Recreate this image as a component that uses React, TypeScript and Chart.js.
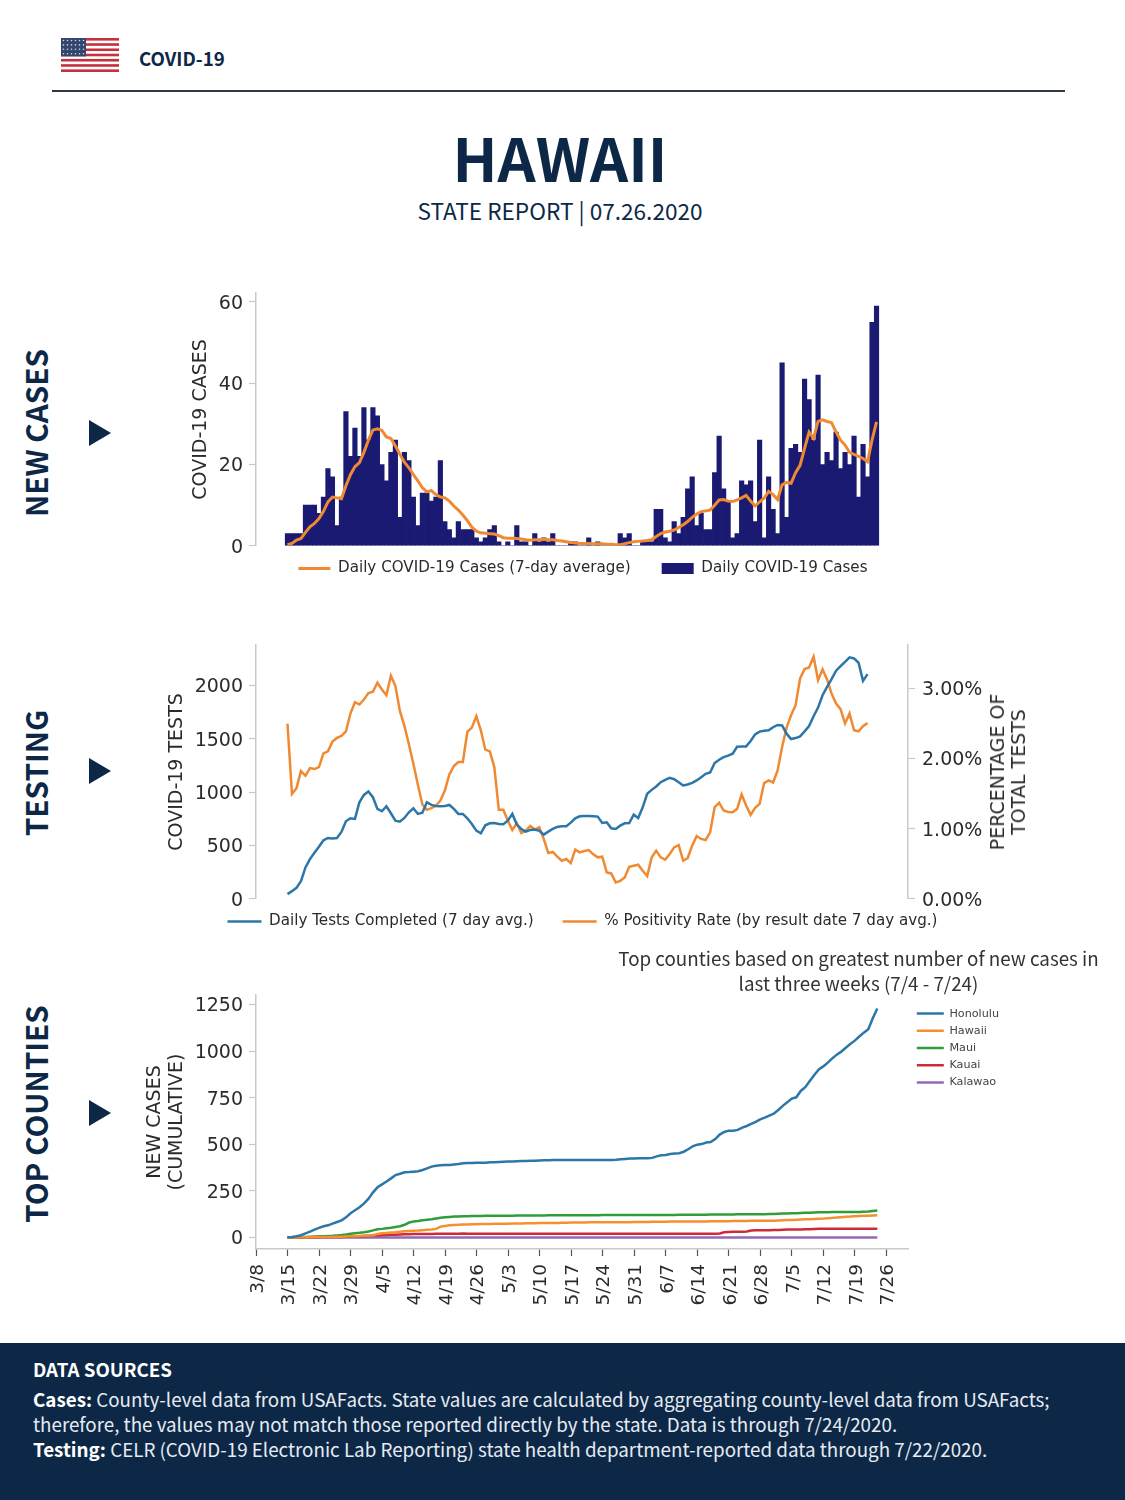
import React, { useEffect, useRef } from "react";
import { Chart, registerables } from "chart.js";

Chart.register(...registerables);

// ---- Data ----
const dailyCases = [
  3,3,3,3,10,10,10,8,12,19,17,5,12,33,22,29,22,34,26,34,
  32,20,16,23,26,7,23,21,12,5,13,13,11,12,21,6,4,2,6,4,
  4,4,2,1,2,4,5,1,0,1,0,5,1,1,0,3,1,2,1,3,
  0,0,0,1,1,0,0,2,0,1,0,0,0,0,3,2,3,0,0,1,
  1,1,9,9,2,1,6,3,7,14,17,5,8,4,4,18,27,14,11,2,
  3,16,15,16,6,26,2,17,9,3,45,7,24,25,23,41,36,26,42,20,
  23,21,28,19,23,20,27,12,25,17,55,59,
];
const casesAvg = [
  0.3,0.6,1.4,1.8,3.3,4.7,5.5,6.7,8.5,10.8,12,11.8,11.6,14.8,17.5,19.5,20.5,23,26,28.5,
  28.8,28.4,26.8,26.4,24.6,22.5,20.6,19.2,17.5,16,14.3,13.3,13.6,12.6,12,11.8,11,9.8,8.8,7.6,
  6.2,4.6,3.6,3.2,3.1,3,2.9,2.5,2,1.9,1.9,1.8,1.7,1.5,1.4,1.5,1.5,1.6,1.5,1.5,
  1.3,1.2,1,0.8,0.7,0.6,0.6,0.6,0.5,0.5,0.5,0.4,0.4,0.3,0.3,0.5,0.8,1,1.1,1.2,
  1.3,1.5,2.3,3,3.4,3.6,3.9,4.5,5.2,6,7,7.8,8.4,8.6,8.8,10,11.3,11.4,11,10.9,
  11.3,11.8,12.4,11,9.8,10.8,11.7,13.4,12.6,11.4,15,15.6,15.4,18,19.8,24,28,26.5,30.6,31,
  30.6,30.3,28,26,24.8,23,22.5,22,21.5,20.7,26,30.5,
];
const dailyTests = [
  44,72,103,166,294,372,432,488,548,570,566,570,626,726,754,748,904,973,1005,951,
  842,820,867,801,732,723,757,810,848,795,807,904,879,870,867,870,879,842,795,795,
  754,701,638,613,688,707,710,701,698,732,795,695,654,629,645,648,638,601,629,654,
  673,679,679,713,754,773,776,776,773,770,710,717,660,654,685,707,710,788,757,857,
  983,1020,1052,1092,1114,1133,1120,1092,1061,1070,1086,1108,1139,1170,1183,1271,1302,1327,1340,1358,
  1424,1427,1427,1477,1540,1565,1574,1577,1606,1628,1624,1546,1496,1505,1521,1568,1618,1709,1790,1906,
  1984,2056,2135,2178,2219,2260,2250,2210,2040,2103,
];
const positivityRate = [
  2.495,1.495,1.576,1.819,1.752,1.862,1.848,1.876,2.071,2.1,2.238,2.291,2.319,2.386,2.638,2.8,2.767,2.838,2.929,2.948,
  3.076,2.981,2.9,3.176,3.029,2.676,2.462,2.2,1.924,1.624,1.343,1.267,1.291,1.324,1.4,1.543,1.772,1.891,1.948,1.948,
  2.376,2.438,2.6,2.4,2.124,2.1,1.876,1.267,1.267,1.114,0.981,1.076,0.938,0.971,1.038,0.986,1.019,0.852,0.652,0.667,
  0.6,0.543,0.567,0.51,0.7,0.662,0.681,0.695,0.633,0.591,0.6,0.376,0.362,0.233,0.257,0.305,0.457,0.472,0.486,0.4,
  0.324,0.591,0.686,0.591,0.557,0.638,0.733,0.767,0.543,0.581,0.757,0.895,0.853,0.838,0.948,1.305,1.367,1.257,1.238,1.233,
  1.281,1.486,1.329,1.195,1.295,1.352,1.648,1.686,1.657,1.829,2.162,2.438,2.614,2.757,3.138,3.271,3.295,3.448,3.114,3.267,
  3.124,2.924,2.781,2.7,2.495,2.638,2.4,2.386,2.457,2.505,
];
const honolulu = [
  1,3,6,12,22,31,42,51,60,65,74,83,92,108,130,146,162,183,208,242,
  269,285,300,317,335,342,350,351,353,355,362,371,380,385,387,389,389,392,394,398,
  400,400,401,401,401,403,404,405,406,407,408,409,410,410,411,412,413,414,414,415,
  415,416,416,416,416,416,416,416,416,416,416,416,416,417,419,421,423,423,425,425,
  425,427,435,441,443,448,450,452,460,473,489,498,501,509,512,528,552,566,573,573,
  577,589,598,609,620,634,643,654,664,684,706,725,745,752,786,806,840,872,902,918,
  938,961,981,997,1018,1038,1056,1078,1099,1117,1176,1229,
];
const hawaii = [
  0,0,0,1,1,1,2,2,2,3,3,4,4,5,6,7,8,9,10,12,
  18,22,24,26,28,31,33,35,36,37,39,41,43,46,58,62,65,67,68,69,
  70,71,71,72,72,72,73,73,74,74,75,75,75,76,76,76,77,77,78,78,
  78,79,79,80,80,80,80,81,81,81,81,81,82,82,82,82,82,83,83,83,
  83,84,84,84,84,85,85,85,85,85,86,86,86,86,87,87,87,87,87,88,
  88,88,88,89,89,89,89,90,90,91,92,93,94,95,96,97,98,99,100,101,
  103,105,107,109,111,112,114,115,116,117,118,119,
];
const maui = [
  0,1,1,2,3,4,5,6,7,8,9,11,13,16,20,23,25,28,32,38,
  44,46,49,52,56,60,68,80,85,88,92,95,98,102,106,108,110,112,113,114,
  114,115,115,115,116,116,116,117,117,117,117,118,118,118,118,118,118,118,119,119,
  119,119,119,119,119,119,119,119,119,119,120,120,120,120,120,120,120,120,120,120,
  121,121,121,121,121,121,121,122,122,122,122,122,122,122,123,123,123,123,123,123,
  124,124,124,124,125,125,125,126,126,127,128,129,130,130,131,132,133,134,135,135,
  135,136,136,136,136,136,137,137,138,139,142,144,
];
const kauai = [
  0,0,0,0,1,1,1,1,2,2,2,3,3,4,5,6,7,8,9,10,
  11,12,13,14,15,16,17,17,18,18,19,19,19,20,20,20,20,20,20,21,
  20,20,20,20,20,20,20,20,20,20,20,20,20,20,20,20,20,20,20,20,
  20,20,20,20,20,20,20,20,20,20,20,20,20,20,20,20,20,20,20,20,
  20,20,20,20,20,20,20,20,20,20,20,20,20,20,20,20,21,28,29,30,
  30,31,32,37,38,38,39,39,40,40,41,42,42,43,43,44,44,45,46,46,
  46,46,46,46,46,46,46,46,46,46,46,46,
];
const kalawao = [
  0,0,0,0,0,0,0,0,0,0,0,0,0,0,0,0,0,0,0,0,0,0,0,0,0,0,0,0,0,0,0,0,0,
  0,0,0,0,0,0,0,0,0,0,0,0,0,0,0,0,0,0,0,0,0,0,0,0,0,0,0,0,0,0,0,0,0,
  0,0,0,0,0,0,0,0,0,0,0,0,0,0,0,0,0,0,0,0,0,0,0,0,0,0,0,0,0,0,0,0,0,
  0,0,0,0,0,0,0,0,0,0,0,0,0,0,0,0,0,0,0,0,0,0,0,0,0,0,0,0,0,0,0,0,0,
];
const caseTicks = [0, 20, 40, 60];
const testTicks = [0, 500, 1000, 1500, 2000];
const rateTicks = [0, 1, 2, 3];
const countyTicks = [0, 250, 500, 750, 1000, 1250];

// Daily axis labels, 3/8 to 7/31 of 2020; series begin on 3/15 (index 7).
const DAY_COUNT = 146;
const SERIES_START = 7;
const dayLabels = Array.from({ length: DAY_COUNT }, (_, i) => {
  const d = new Date(2020, 2, 8 + i);
  return `${d.getMonth() + 1}/${d.getDate()}`;
});
const onDays = (values: number[]) => [...new Array(SERIES_START).fill(null), ...values];

// ---- Style constants ----
const NAVY = "#0d2847";
const ORANGE = "#f08a32";
const BLUE = "#2c76a8";
const AXIS = "#c9c9c9";
const INK = "#2b2b2b";
const SANS = '"DejaVu Sans"';
const HEAD = '"Noto Sans CJK SC"';
const CANVAS_LEFT = 130;
const CANVAS_WIDTH = 905;
const PLOT_LEFT = 256;
const PLOT_RIGHT = 908;

const fixedTicks = (values: number[]) => (s: any) => { s.ticks = values.map((value) => ({ value })); };
const tickOpts = (extra: any = {}) => ({
  padding: 6, labelOffset: 2, color: INK, font: { family: SANS, size: 19 },
  callback: (v: any) => String(v), ...extra,
});
const yBase = (extra: any = {}) => ({
  position: "left",
  min: 0,
  afterFit: (s: any) => { s.width = PLOT_LEFT - CANVAS_LEFT; },
  grid: { drawOnChartArea: false, drawTicks: true, tickLength: 7, tickColor: AXIS, tickWidth: 1.2 },
  border: { display: true, color: AXIS, width: 1.5 },
  ...extra,
});
const axisTitle = (text: string | string[], pad: number) => ({
  display: true, text, color: INK, padding: { top: pad, bottom: 0 },
  font: { family: SANS, size: 19, lineHeight: 1.15 },
});
const moveLegend = (dx: number, dy: number) => ({
  id: "moveLegend",
  afterLayout(chart: any) {
    const l = chart.legend;
    l.left += dx; l.right += dx; l.top += dy; l.bottom += dy;
  },
});
const legendOf = (padding: number, width: number) => ({
  display: true, position: "bottom" as const,
  labels: {
    usePointStyle: true, pointStyleWidth: width, boxHeight: 11, padding,
    color: INK, font: { family: SANS, size: 15.15 },
  },
});
const lineStyle = (color: string, width = 2.5) => ({
  type: "line" as const, borderColor: color, backgroundColor: color, borderWidth: width,
  pointRadius: 0, pointHoverRadius: 0, pointStyle: "line", pointBorderColor: color,
  pointBackgroundColor: color, pointBorderWidth: width, tension: 0, fill: false,
});

function Txt({ x, y, size, weight, color, font, center, rotate, lh, children }: any) {
  return (
    <div style={{
      position: "absolute", left: x, top: y, whiteSpace: "pre", fontFamily: font ?? HEAD,
      fontSize: size, fontWeight: weight ?? 400, color: color ?? NAVY, lineHeight: lh ? `${lh}px` : 1,
      textAlign: center ? "center" : "left",
      transform: `translate(${center ? "-50%" : "0"},-50%)${rotate ? " rotate(-90deg)" : ""}`,
    }}>{children}</div>
  );
}
const Triangle = ({ y }: { y: number }) => (
  <svg style={{ position: "absolute", left: 88, top: y }} width="24" height="28">
    <polygon points="1,1 23,14 1,27" fill={NAVY} />
  </svg>
);
const Flag = () => (
  <svg style={{ position: "absolute", left: 61, top: 38 }} width="58" height="34">
    <rect width="58" height="34" fill="#fff" />
    {[0, 1, 2, 3, 4, 5, 6].map((i) => (
      <rect key={i} y={i * 5.23} width="58" height="2.62" fill="#c5323f" />
    ))}
    <rect width="25" height="18.4" fill="#34466e" />
    {[0, 1, 2, 3].map((r) => [0, 1, 2, 3, 4, 5].map((c) => (
      <circle key={`${r}${c}`} cx={2.5 + c * 4} cy={2.5 + r * 4.4} r="0.8" fill="#cfd6e6" />
    )))}
  </svg>
);

export default function App() {
  const c1 = useRef<HTMLCanvasElement>(null);
  const c2 = useRef<HTMLCanvasElement>(null);
  const c3 = useRef<HTMLCanvasElement>(null);

  useEffect(() => {
    const hiddenX = { display: false, offset: false, grid: { display: false } };
    const common = { responsive: false, maintainAspectRatio: false, animation: false as const, devicePixelRatio: 1 };

    const chart1 = new Chart(c1.current!, {
      type: "bar",
      data: {
        labels: dayLabels,
        datasets: [
          { ...lineStyle(ORANGE, 3), label: "Daily COVID-19 Cases (7-day average)", data: onDays(casesAvg), order: 0 } as any,
          { type: "bar", label: "Daily COVID-19 Cases", data: onDays(dailyCases), backgroundColor: "#1a1a72",
            borderWidth: 0, barPercentage: 1, categoryPercentage: 1, pointStyle: "rect", order: 1 } as any,
        ],
      },
      options: {
        ...common,
        layout: { padding: { top: 20, right: CANVAS_LEFT + CANVAS_WIDTH - PLOT_RIGHT, bottom: 0, left: 0 } },
        plugins: { legend: legendOf(31, 32) as any, tooltip: { enabled: false } },
        scales: {
          x: hiddenX,
          y: yBase({
            max: 62.2,
            afterBuildTicks: fixedTicks(caseTicks),
            title: axisTitle("COVID-19 CASES", 60),
            ticks: tickOpts(),
          }),
        } as any,
      },
      plugins: [moveLegend(64, -16)],
    });

    const chart2 = new Chart(c2.current!, {
      type: "line",
      data: {
        labels: dayLabels,
        datasets: [
          { ...lineStyle(BLUE), label: "Daily Tests Completed (7 day avg.)", data: onDays(dailyTests), yAxisID: "y" } as any,
          { ...lineStyle(ORANGE), label: "% Positivity Rate (by result date 7 day avg.)", data: onDays(positivityRate), yAxisID: "y1" } as any,
        ],
      },
      options: {
        ...common,
        layout: { padding: { top: 20, right: 0, bottom: 0, left: 0 } },
        plugins: { legend: legendOf(29, 34) as any, tooltip: { enabled: false } },
        scales: {
          x: hiddenX,
          y: yBase({
            max: 2376,
            afterBuildTicks: fixedTicks(testTicks),
            title: axisTitle("COVID-19 TESTS", 36),
            ticks: tickOpts(),
          }),
          y1: {
            position: "right", min: 0, max: 3.614,
            afterBuildTicks: fixedTicks(rateTicks),
            afterFit: (s: any) => { s.width = CANVAS_LEFT + CANVAS_WIDTH - PLOT_RIGHT; },
            grid: { drawOnChartArea: false, drawTicks: true, tickLength: 7, tickColor: AXIS, tickWidth: 1.2 },
            border: { display: true, color: AXIS, width: 1.5 },
            ticks: tickOpts({ padding: 7, callback: (v: any) => `${Number(v).toFixed(2)}%` }),
          },
        } as any,
      },
      plugins: [moveLegend(0, -14)],
    });

    const chart3 = new Chart(c3.current!, {
      type: "line",
      data: {
        labels: dayLabels,
        datasets: [
          { ...lineStyle(BLUE), label: "Honolulu", data: onDays(honolulu) } as any,
          { ...lineStyle("#f5902f"), label: "Hawaii", data: onDays(hawaii) } as any,
          { ...lineStyle("#2f9e3a"), label: "Maui", data: onDays(maui) } as any,
          { ...lineStyle("#cf2a3a"), label: "Kauai", data: onDays(kauai) } as any,
          { ...lineStyle("#9069b8"), label: "Kalawao", data: onDays(kalawao) } as any,
        ],
      },
      options: {
        ...common,
        layout: { padding: { top: 20, right: 28, bottom: 0, left: 0 } },
        plugins: {
          legend: {
            display: true, position: "right", align: "start",
            labels: {
              usePointStyle: true, pointStyleWidth: 27, boxHeight: 12, padding: 6,
              color: "#444", font: { family: SANS, size: 11.2 },
            },
          } as any,
          tooltip: { enabled: false },
        },
        scales: {
          x: {
            offset: false,
            afterFit: (s: any) => { s.height = 60; },
            afterBuildTicks: (s: any) => { s.ticks = s.ticks.filter((t: any) => t.value % 7 === 0); },
            grid: { drawOnChartArea: false, drawTicks: true, tickLength: 7, tickColor: "#555", tickWidth: 1.2 },
            border: { display: true, color: AXIS, width: 1.5 },
            ticks: {
              autoSkip: false, minRotation: 90, maxRotation: 90, padding: 8, labelOffset: 2, color: INK,
              font: { family: SANS, size: 18.5 },
              callback(this: any, v: any) { return this.getLabelForValue(v); },
            },
          },
          y: yBase({
            min: -62, max: 1301,
            afterBuildTicks: fixedTicks(countyTicks),
            title: axisTitle(["NEW CASES", "(CUMULATIVE)"], 14),
            ticks: tickOpts(),
          }),
        } as any,
      },
      plugins: [moveLegend(2, 7)],
    });

    return () => { chart1.destroy(); chart2.destroy(); chart3.destroy(); };
  }, []);

  const cv = (top: number, height: number) => ({
    style: { position: "absolute" as const, left: CANVAS_LEFT, top, width: CANVAS_WIDTH, height },
    width: CANVAS_WIDTH, height,
  });

  return (
    <div style={{ position: "absolute", left: 0, top: 0, width: 1125, height: 1500, background: "#fff", overflow: "hidden" }}>
      <Flag />
      <Txt x={139} y={58} size={18.7} weight={700}>COVID-19</Txt>
      <div style={{ position: "absolute", left: 52, top: 90, width: 1013, height: 2, background: "#2f3846" }} />
      <Txt x={560} y={156.5} size={59.5} weight={700} center>HAWAII</Txt>
      <Txt x={560} y={211} size={22.6} center>STATE REPORT | 07.26.2020</Txt>

      <Txt x={36} y={433} size={29.7} weight={700} center rotate>NEW CASES</Txt>
      <Txt x={36} y={772.5} size={29.7} weight={700} center rotate>TESTING</Txt>
      <Txt x={36} y={1113.5} size={29.7} weight={700} center rotate>TOP COUNTIES</Txt>
      <Triangle y={419} />
      <Triangle y={757} />
      <Triangle y={1099} />

      <canvas ref={c1} {...cv(273, 329)} />
      <canvas ref={c2} {...cv(625, 328)} />
      <canvas ref={c3} {...cv(975, 334)} />

      <Txt x={1008} y={772} size={19} font={SANS} color={INK} center rotate lh={21}>{"PERCENTAGE OF\nTOTAL TESTS"}</Txt>
      <Txt x={858.5} y={970} size={18.8} color="#333" center lh={25}>{"Top counties based on greatest number of new cases in\nlast three weeks (7/4 - 7/24)"}</Txt>

      <div style={{ position: "absolute", left: 0, top: 1343, width: 1125, height: 157, background: "#0d2847" }} />
      <Txt x={33} y={1369} size={18.7} weight={700} color="#fff">DATA SOURCES</Txt>
      <Txt x={33} y={1399} size={18.8} color="#e6ebf2"><b style={{ color: "#fff" }}>Cases:</b> County-level data from USAFacts. State values are calculated by aggregating county-level data from USAFacts;</Txt>
      <Txt x={33} y={1424} size={18.8} color="#e6ebf2">therefore, the values may not match those reported directly by the state. Data is through 7/24/2020.</Txt>
      <Txt x={33} y={1449} size={18.8} color="#e6ebf2"><b style={{ color: "#fff" }}>Testing:</b> CELR (COVID-19 Electronic Lab Reporting) state health department-reported data through 7/22/2020.</Txt>
    </div>
  );
}
